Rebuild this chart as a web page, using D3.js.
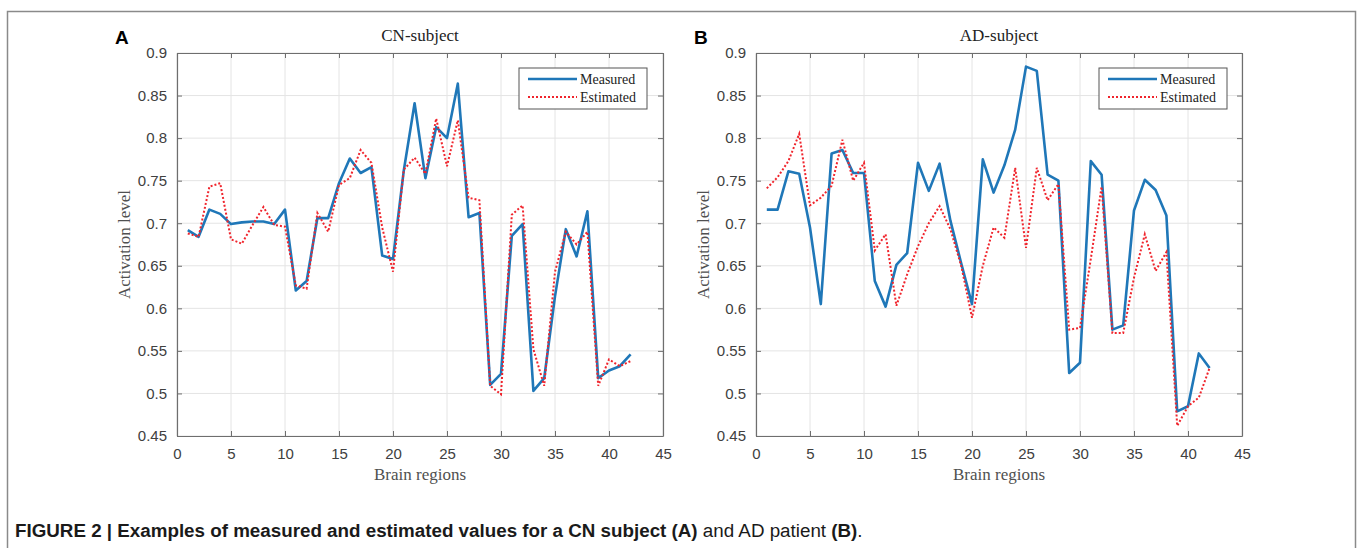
<!DOCTYPE html>
<html lang="en">
    <head>
        <meta charset="utf-8">
        <title>Measured and estimated activation levels</title>
        <script type="text/javascript" src="https://cdn.jsdelivr.net/npm/d3@7/dist/d3.min.js"></script>
        <style type="text/css">
          body { margin: 0; background: #fff; }
          .tick text { font-family: "Liberation Sans", Arial, sans-serif; font-size: 15px; fill: #404040; }
          .serif { font-family: "Liberation Serif", "DejaVu Serif", serif; }
        </style>
    </head>
    <body>
        <script type="text/javascript">

          var w = 1358;
          var h = 548;

          var regions = [1,2,3,4,5,6,7,8,9,10,11,12,13,14,15,16,17,18,19,20,21,
                         22,23,24,25,26,27,28,29,30,31,32,33,34,35,36,37,38,39,40,41,42];

          var xTicks = [0,5,10,15,20,25,30,35,40,45];
          var yTicks = [0.45,0.5,0.55,0.6,0.65,0.7,0.75,0.8,0.85,0.9];

          // panel A, CN subject
          var cnMeasured = [0.692,0.684,0.716,0.711,0.699,0.701,0.702,0.702,0.699,0.716,
                            0.621,0.632,0.706,0.706,0.747,0.776,0.759,0.766,0.662,0.658,
                            0.762,0.841,0.753,0.813,0.800,0.864,0.707,0.712,0.510,0.523,
                            0.685,0.699,0.503,0.518,0.614,0.693,0.661,0.714,0.518,0.527,
                            0.532,0.546];
          var cnEstimated = [0.688,0.684,0.743,0.747,0.681,0.676,0.698,0.719,0.698,0.696,
                             0.627,0.623,0.712,0.690,0.745,0.753,0.786,0.771,0.695,0.643,
                             0.763,0.777,0.758,0.823,0.767,0.821,0.730,0.727,0.509,0.499,
                             0.710,0.721,0.552,0.509,0.643,0.690,0.675,0.690,0.509,0.540,
                             0.532,0.538];

          // panel B, AD subject
          var adMeasured = [0.716,0.716,0.761,0.758,0.695,0.605,0.782,0.786,0.759,0.759,
                            0.632,0.602,0.651,0.665,0.771,0.738,0.770,0.703,0.653,0.605,
                            0.775,0.736,0.768,0.810,0.884,0.879,0.757,0.750,0.524,0.536,
                            0.773,0.757,0.575,0.580,0.715,0.751,0.739,0.709,0.479,0.485,
                            0.547,0.530];
          var adEstimated = [0.741,0.754,0.773,0.805,0.721,0.730,0.744,0.798,0.750,0.771,
                             0.668,0.687,0.603,0.640,0.673,0.700,0.720,0.693,0.650,0.589,
                             0.650,0.695,0.683,0.765,0.671,0.765,0.727,0.746,0.575,0.577,
                             0.658,0.743,0.571,0.571,0.636,0.687,0.644,0.666,0.462,0.485,
                             0.495,0.530];

          var seriesNames = ["Measured", "Estimated"];

          var svg = d3.select("body")
                      .append("svg")
                      .attr("width", w)
                      .attr("height", h);

          // figure frame
          svg.append("rect")
             .attr("x", 7.5).attr("y", 11.5)
             .attr("width", 1348).attr("height", 560)
             .attr("fill", "none")
             .attr("stroke", "#8a8a8a")
             .attr("stroke-width", 1.5);

          function drawPanel(left, letter, title, measured, estimated, legendX) {
            var top = 53, bottom = 436, right = left + 486;

            var xScale = d3.scaleLinear().domain([0, 45]).range([left, right]);
            var yScale = d3.scaleLinear().domain([0.45, 0.9]).range([bottom, top]);

            var g = svg.append("g");

            // grid
            g.selectAll("line.gx").data(xTicks).enter().append("line")
             .attr("x1", d => xScale(d)).attr("x2", d => xScale(d))
             .attr("y1", top).attr("y2", bottom)
             .attr("stroke", "#e4e4e4").attr("stroke-width", 1);
            g.selectAll("line.gy").data(yTicks).enter().append("line")
             .attr("x1", left).attr("x2", right)
             .attr("y1", d => yScale(d)).attr("y2", d => yScale(d))
             .attr("stroke", "#e4e4e4").attr("stroke-width", 1);

            var xAxis = d3.axisBottom(xScale).tickValues(xTicks).tickSizeInner(-5).tickSizeOuter(0).tickPadding(12);
            var yAxis = d3.axisLeft(yScale).tickValues(yTicks).tickSizeInner(-5).tickSizeOuter(0).tickPadding(10)
                          .tickFormat(d3.format("~g"));
            var xTop = d3.axisTop(xScale).tickValues(xTicks).tickSizeInner(-5).tickSizeOuter(0).tickFormat("");
            var yRight = d3.axisRight(yScale).tickValues(yTicks).tickSizeInner(-5).tickSizeOuter(0).tickFormat("");

            g.append("g").attr("transform", "translate(0," + bottom + ")").call(xAxis);
            g.append("g").attr("transform", "translate(" + left + ",0)").call(yAxis);
            g.append("g").attr("transform", "translate(0," + top + ")").call(xTop);
            g.append("g").attr("transform", "translate(" + right + ",0)").call(yRight);
            g.selectAll(".domain").attr("stroke", "#6e6e6e").attr("stroke-width", 1.2);
            g.selectAll(".tick line").attr("stroke", "#6e6e6e");

            var line = d3.line()
                         .x((d, i) => xScale(regions[i]))
                         .y(d => yScale(d));

            g.append("path").datum(measured)
             .attr("d", line)
             .attr("fill", "none")
             .attr("stroke", "#1f77b8")
             .attr("stroke-width", 2.6)
             .attr("stroke-linejoin", "round");

            g.append("path").datum(estimated)
             .attr("d", line)
             .attr("fill", "none")
             .attr("stroke", "#f0242c")
             .attr("stroke-width", 2)
             .attr("stroke-dasharray", "2,2");

            // labels
            g.append("text")
             .attr("class", "serif")
             .attr("x", (left + right) / 2).attr("y", 41)
             .attr("text-anchor", "middle")
             .style("font-size", "17px").style("fill", "#222")
             .text(title);

            g.append("text")
             .attr("x", left - 62).attr("y", 44)
             .style("font-family", "Liberation Sans, Arial, sans-serif")
             .style("font-weight", "bold").style("font-size", "19px")
             .text(letter);

            g.append("text")
             .attr("class", "serif")
             .attr("x", (left + right) / 2).attr("y", 480)
             .attr("text-anchor", "middle")
             .style("font-size", "17px").style("fill", "#505050")
             .text("Brain regions");

            g.append("text")
             .attr("class", "serif")
             .attr("transform", "translate(" + (left - 47) + "," + ((top + bottom) / 2) + ") rotate(-90)")
             .attr("text-anchor", "middle")
             .style("font-size", "17px").style("fill", "#505050")
             .text("Activation level");

            // legend
            var lg = g.append("g").attr("transform", "translate(" + legendX + ",68)");
            lg.append("rect")
              .attr("width", 128).attr("height", 41)
              .attr("fill", "#fff").attr("stroke", "#555").attr("stroke-width", 1);
            var styles = [{c: "#1f77b8", wd: 2.6, dash: null}, {c: "#f0242c", wd: 2, dash: "2,2"}];
            seriesNames.forEach(function(n, i) {
              lg.append("line")
                .attr("x1", 9).attr("x2", 58)
                .attr("y1", 11 + i * 18).attr("y2", 11 + i * 18)
                .attr("stroke", styles[i].c).attr("stroke-width", styles[i].wd)
                .attr("stroke-dasharray", styles[i].dash);
              lg.append("text")
                .attr("class", "serif")
                .attr("x", 61).attr("y", 16 + i * 18)
                .style("font-size", "14px").style("fill", "#222")
                .text(n);
            });
          }

          drawPanel(177, "A", "CN-subject", cnMeasured, cnEstimated, 519);
          drawPanel(756, "B", "AD-subject", adMeasured, adEstimated, 1099);

          // caption
          var cap = svg.append("text")
                       .attr("x", 15).attr("y", 537)
                       .style("font-family", "Liberation Sans, Arial, sans-serif")
                       .style("font-size", "18.8px").style("fill", "#1a1a1a");
          cap.append("tspan").style("font-weight", "bold")
             .text("FIGURE 2 | Examples of measured and estimated values for a CN subject (A)");
          cap.append("tspan").text(" and AD patient ");
          cap.append("tspan").style("font-weight", "bold").text("(B)");
          cap.append("tspan").text(".");

        </script>
    </body>
</html>
